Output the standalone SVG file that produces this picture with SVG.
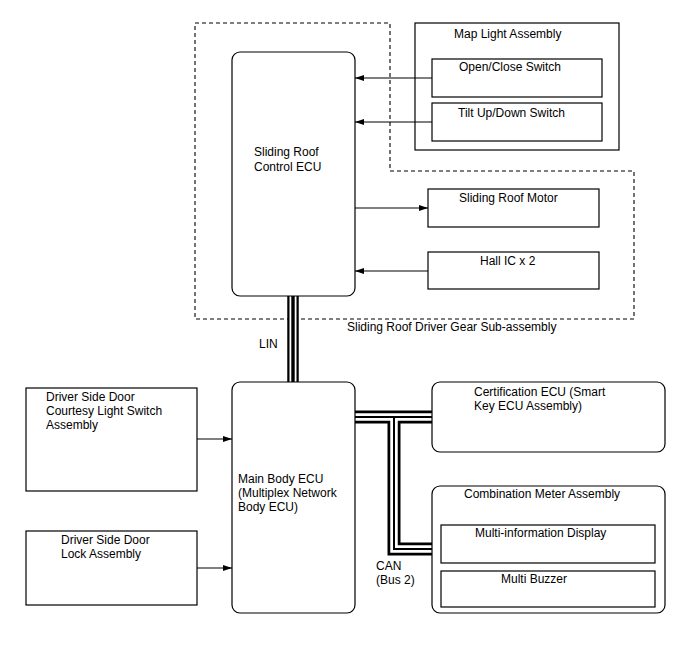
<svg xmlns="http://www.w3.org/2000/svg" width="688" height="658" viewBox="0 0 688 658">
<defs>
<marker id="ah" markerWidth="10" markerHeight="8" refX="9" refY="4" orient="auto" markerUnits="userSpaceOnUse">
<path d="M0,1 L9,4 L0,7 Z" fill="#000"/>
</marker>
<style>
text{font-family:"Liberation Sans",Arial,sans-serif;font-size:12px;fill:#000}
.box{fill:#fff;stroke:#000;stroke-width:1.2}
.line{fill:none;stroke:#000;stroke-width:1.1}
.dash{fill:none;stroke:#000;stroke-width:1.1;stroke-dasharray:4,3}
.b1{fill:none;stroke:#000;stroke-linejoin:miter;stroke-linecap:butt}
.b2{fill:none;stroke:#fff;stroke-linejoin:miter;stroke-linecap:butt}
</style>
</defs>
<rect width="688" height="658" fill="#fff"/>
<g id="subassembly">
<path class="dash" d="M195,23 H390 V171 H634 V319 H195 Z"/>
<text x="347" y="331">Sliding Roof Driver Gear Sub-assembly</text>
</g>
<g id="map-light">
<rect class="box" x="415" y="23" width="204" height="127"/>
<text x="454" y="38">Map Light Assembly</text>
</g>
<g id="connectors">
<path class="line" d="M432,78 H355" marker-end="url(#ah)"/>
<path class="line" d="M432,122 H355" marker-end="url(#ah)"/>
<path class="line" d="M355,208 H428" marker-end="url(#ah)"/>
<path class="line" d="M428,271 H355" marker-end="url(#ah)"/>
<path class="line" d="M197,439 H232" marker-end="url(#ah)"/>
<path class="line" d="M197,568 H232" marker-end="url(#ah)"/>
<g id="lin">
<path class="b1" stroke-width="11.5" d="M293,296 V382"/>
<path class="b2" stroke-width="7" d="M293,296 V382"/>
<path class="b1" stroke-width="3.4" d="M293,296 V382"/>
</g>
<g id="can">
<path class="b1" stroke-width="13" d="M355,417 H432 M394,417 V549 H432"/>
<path class="b2" stroke-width="7.5" d="M355,417 H432 M394,417 V549 H432"/>
<path class="b1" stroke-width="2" d="M355,417 H432 M394,417 V549 H432"/>
</g>
</g>
<g id="open-close-switch">
<rect class="box" x="432" y="59" width="170" height="38"/>
<text x="459" y="71">Open/Close Switch</text>
</g>
<g id="tilt-switch">
<rect class="box" x="432" y="103" width="170" height="38"/>
<text x="458" y="117">Tilt Up/Down Switch</text>
</g>
<g id="sliding-roof-ecu">
<rect class="box" x="232" y="52" width="123" height="244" rx="8"/>
<text x="254" y="156">Sliding Roof</text>
<text x="254" y="171">Control ECU</text>
</g>
<g id="sliding-roof-motor">
<rect class="box" x="428" y="189" width="171" height="38"/>
<text x="459" y="202">Sliding Roof Motor</text>
</g>
<g id="hall-ic">
<rect class="box" x="428" y="252" width="171" height="37"/>
<text x="480" y="265">Hall IC x 2</text>
</g>
<text x="259" y="348">LIN</text>
<g id="main-body-ecu">
<rect class="box" x="232" y="382" width="123" height="231" rx="8"/>
<text x="238" y="483">Main Body ECU</text>
<text x="238" y="497">(Multiplex Network</text>
<text x="238" y="511">Body ECU)</text>
</g>
<g id="courtesy-switch">
<rect class="box" x="26" y="388" width="171" height="103"/>
<text x="46" y="401">Driver Side Door</text>
<text x="46" y="415">Courtesy Light Switch</text>
<text x="46" y="429">Assembly</text>
</g>
<g id="door-lock">
<rect class="box" x="26" y="531" width="171" height="74"/>
<text x="61" y="544">Driver Side Door</text>
<text x="61" y="558">Lock Assembly</text>
</g>
<g id="certification-ecu">
<rect class="box" x="432" y="382" width="233" height="70" rx="8"/>
<text x="474" y="396">Certification ECU (Smart</text>
<text x="474" y="410">Key ECU Assembly)</text>
</g>
<g id="combination-meter">
<rect class="box" x="432" y="486" width="233" height="127" rx="8"/>
<text x="464" y="498">Combination Meter Assembly</text>
</g>
<g id="multi-info-display">
<rect class="box" x="441" y="525" width="214" height="38"/>
<text x="475" y="537">Multi-information Display</text>
</g>
<g id="multi-buzzer">
<rect class="box" x="441" y="571" width="214" height="36"/>
<text x="501" y="583">Multi Buzzer</text>
</g>
<text x="376" y="570">CAN</text>
<text x="376" y="584">(Bus 2)</text>
</svg>
